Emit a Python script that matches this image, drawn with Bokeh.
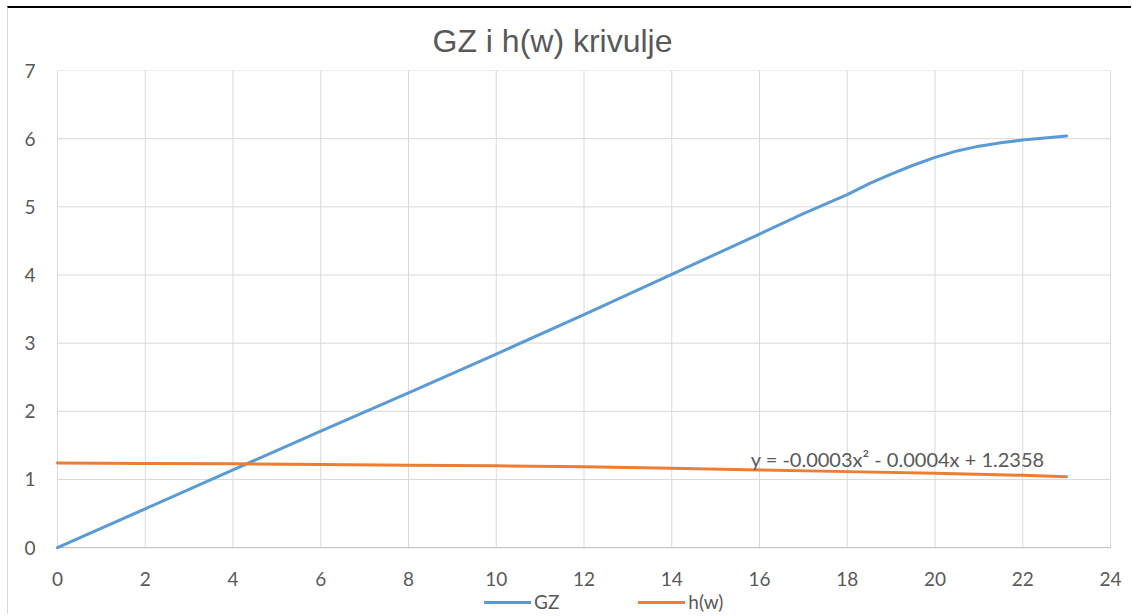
from bokeh.plotting import figure
from bokeh.models import Legend, LegendItem, Range1d, FixedTicker, Label
from bokeh.core.properties import value
from bokeh.embed import file_html
from bokeh.resources import INLINE

# Data
gz_x = [0, 2, 4, 6, 8, 10, 12, 14, 16, 17, 18, 18.5, 19, 19.5, 20, 20.5, 21, 21.5, 22, 22.5, 23]
gz_y = [0, 0.57, 1.14, 1.71, 2.27, 2.84, 3.42, 4.01, 4.6, 4.9, 5.18, 5.34, 5.48, 5.61, 5.725,
        5.82, 5.89, 5.94, 5.98, 6.01, 6.04]

hw_x = [0, 2, 4, 6, 8, 10, 12, 14, 16, 18, 20, 22, 23]
hw_y = [1.24, 1.235, 1.23, 1.22, 1.21, 1.2, 1.185, 1.165, 1.14, 1.115, 1.09, 1.06, 1.04]

x_ticks = [0, 2, 4, 6, 8, 10, 12, 14, 16, 18, 20, 22, 24]
y_ticks = [0, 1, 2, 3, 4, 5, 6, 7]
x_tick_labels = [str(t) for t in x_ticks]

title_text = "GZ i h(w) krivulje"
series_names = ["GZ", "h(w)"]
trend_text = "y = -0.0003x\u00b2 - 0.0004x + 1.2358"
trend_pos = (15.8, 1.30)

BLUE = "#5B9BD5"
ORANGE = "#ED7D31"
TXT = "#595959"
GRID = "#D9D9D9"
AXIS = "#BFBFBF"
FONT = "Lato"

y_lo, y_hi = y_ticks[0], y_ticks[-1]
x_lo, x_hi = x_ticks[0], x_ticks[-1]

# The frame is a little larger than the 0..24 x 0..7 data box so that the
# x tick labels and the legend (drawn inside the frame) are not clipped.
p = figure(width=1124, height=608, output_backend="svg", toolbar_location=None,
           x_range=Range1d(-0.2735, 24.501), y_range=Range1d(-1.0105, y_hi),
           x_axis_location=None,
           min_border_left=37, min_border_right=0, min_border_top=61, min_border_bottom=0)

p.styles = {"margin-top": "6px", "margin-left": "7px",
            "border-top": "2px solid #000000", "border-left": "1px solid #D9D9D9"}

p.title.text = title_text
p.title.align = "left"
p.title.offset = 387
p.title.text_font = "Liberation Sans"
p.title.text_font_size = "32px"
p.title.text_font_style = "normal"
p.title.text_color = TXT
p.title.standoff = 24

p.outline_line_color = None
p.background_fill_color = "white"
p.border_fill_color = "white"
for g in p.grid:
    g.visible = False

# grid limited to the data box
p.segment(x0=x_ticks, y0=[y_lo] * len(x_ticks), x1=x_ticks, y1=[y_hi] * len(x_ticks),
          line_color=GRID, line_width=1)
p.segment(x0=[x_lo] * len(y_ticks), y0=y_ticks, x1=[x_hi] * len(y_ticks), y1=y_ticks,
          line_color=GRID, line_width=1)
# x axis line
p.segment(x0=[x_lo], y0=[y_lo], x1=[x_hi], y1=[y_lo], line_color=AXIS, line_width=1)

p.yaxis.ticker = FixedTicker(ticks=y_ticks)
p.yaxis.major_tick_line_color = None
p.yaxis.minor_tick_line_color = None
p.yaxis.axis_line_color = None
p.yaxis.major_label_text_font = FONT
p.yaxis.major_label_text_font_size = "19px"
p.yaxis.major_label_text_color = TXT
p.yaxis.major_label_standoff = 4

# x tick labels
p.text(x=x_ticks, y=[y_lo] * len(x_ticks), text=x_tick_labels, y_offset=31,
       text_font=value(FONT), text_font_size="19px", text_color=TXT,
       text_align="center", text_baseline="middle")

r_gz = p.line(gz_x, gz_y, line_color=BLUE, line_width=3, line_cap="round", line_join="round")
r_hw = p.line(hw_x, hw_y, line_color=ORANGE, line_width=3, line_cap="round", line_join="round")

p.add_layout(Label(x=trend_pos[0], y=trend_pos[1], text=trend_text, text_font=FONT,
                   text_font_size="20px", text_color=TXT, text_baseline="middle", text_align="left"))

legend = Legend(items=[LegendItem(label=series_names[0], renderers=[r_gz]),
                       LegendItem(label=series_names[1], renderers=[r_hw])],
                location=(439, 3), orientation="horizontal",
                label_text_font=FONT, label_text_font_size="19px", label_text_color=TXT,
                glyph_width=47, glyph_height=20, label_height=20, label_standoff=3,
                spacing=79, padding=0, margin=0,
                border_line_color=None, background_fill_alpha=0)
p.add_layout(legend)

open("out.html", "w").write(file_html(p, INLINE))
